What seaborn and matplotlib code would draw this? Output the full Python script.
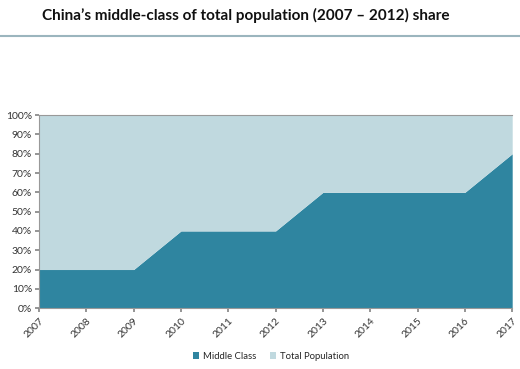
import matplotlib
matplotlib.use("Agg")
import matplotlib.pyplot as plt
import seaborn as sns
import pandas as pd

years = [2007, 2008, 2009, 2010, 2011, 2012, 2013, 2014, 2015, 2016, 2017]
middle_class = [20, 20, 20, 40, 40, 40, 60, 60, 60, 60, 80]
total_population = [80, 80, 80, 60, 60, 60, 40, 40, 40, 40, 20]

df = pd.DataFrame({"Year": years, "Middle Class": middle_class,
                   "Total Population": total_population})

sns.set_theme(style="white")
plt.rcParams['font.family'] = ['Lato', 'DejaVu Sans']

dark = "#2F85A0"
light = "#C0D9DF"

fig = plt.figure(figsize=(5.2, 3.69), dpi=100)
fig.patch.set_facecolor("white")

# title and separator line
fig.text(0.473, 0.957, "China\u2019s middle-class of total population (2007 \u2013 2012) share",
         ha="center", va="center", fontsize=11, fontweight="bold", color="#111111")
fig.add_artist(plt.Line2D([0, 1], [0.902, 0.902], color="#9BB5BE", lw=1.5))

ax = fig.add_axes([0.075, 0.165, 0.91, 0.523])
ax.stackplot(df["Year"], df["Middle Class"], df["Total Population"],
             colors=[dark, light], labels=["Middle Class", "Total Population"],
             linewidth=0)

ax.set_xlim(2007, 2017)
ax.set_ylim(0, 100)
ax.set_xticks(years)
ax.set_xticklabels([str(y) for y in years], rotation=45, ha="right",
                   rotation_mode="anchor", fontsize=7.5, color="#333333")
ax.set_yticks(range(0, 101, 10))
ax.set_yticklabels([f"{v}%" for v in range(0, 101, 10)], fontsize=7.5, color="#333333")
ax.tick_params(axis="x", length=3, color="#888888", pad=3, bottom=True)
ax.tick_params(axis="y", length=3, color="#888888", pad=2, left=True)
for side in ["left", "bottom", "top"]:
    ax.spines[side].set_color("#999999")
    ax.spines[side].set_linewidth(0.8)
ax.spines["right"].set_visible(False)
ax.set_xlabel("")
ax.set_ylabel("")

ax.legend(loc="center", bbox_to_anchor=(0.49, -0.25), ncol=2, frameon=False,
          fontsize=6.8, handlelength=0.7, handleheight=0.7, columnspacing=1.4,
          handletextpad=0.4)

fig.savefig("out.png", dpi=100)
